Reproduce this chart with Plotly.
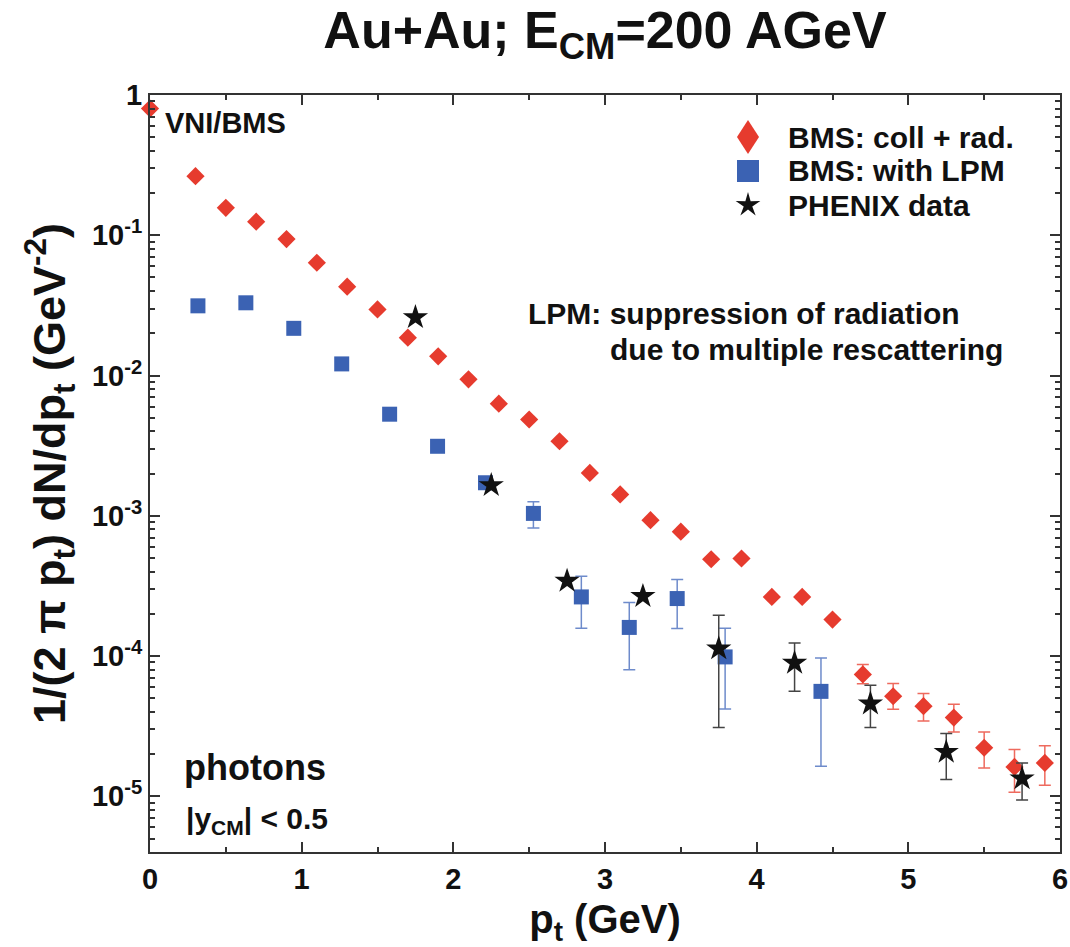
import math
import plotly.graph_objects as go

# ---------------- data ----------------
# BMS: coll + rad. (red diamonds)
bms_x = [0.0, 0.3, 0.5, 0.7, 0.9, 1.1, 1.3, 1.5, 1.7, 1.9, 2.1, 2.3, 2.5, 2.7, 2.9,
         3.1, 3.3, 3.5, 3.7, 3.9, 4.1, 4.3, 4.5, 4.7, 4.9, 5.1, 5.3, 5.5, 5.7, 5.9]
bms_y = [0.80, 0.264, 0.157, 0.125, 0.094, 0.0637, 0.043, 0.0296, 0.0186, 0.0137,
         0.0094, 0.0063, 0.00486, 0.0034, 0.00202, 0.00142, 0.00093, 0.00077, 0.00049, 0.000496,
         0.000264, 0.000264, 0.000182, 7.4e-5, 5.17e-5, 4.39e-5, 3.64e-5, 2.22e-5, 1.62e-5, 1.73e-5]
bms_hi = [None] * 23 + [8.7e-5, 6.36e-5, 5.4e-5, 4.53e-5, 2.88e-5, 2.16e-5, 2.29e-5]
bms_lo = [None] * 23 + [6.35e-5, 4.17e-5, 3.44e-5, 2.87e-5, 1.59e-5, 1.07e-5, 1.2e-5]

# BMS: with LPM (blue squares)
lpm_x = [0.316, 0.632, 0.948, 1.264, 1.58, 1.896, 2.212, 2.528, 2.844, 3.16, 3.476, 3.792, 4.424]
lpm_y = [0.0314, 0.033, 0.0217, 0.0121, 0.0053, 0.00313, 0.00172, 0.00104,
         2.64e-4, 1.6e-4, 2.57e-4, 9.86e-5, 5.6e-5]
lpm_hi = [None] * 7 + [0.00126, 3.7e-4, 2.41e-4, 3.51e-4, 1.58e-4, 9.7e-5]
lpm_lo = [None] * 7 + [0.00082, 1.58e-4, 8.0e-5, 1.57e-4, 4.2e-5, 1.64e-5]

# PHENIX data (black stars)
phx_x = [1.75, 2.25, 2.75, 3.25, 3.75, 4.25, 4.75, 5.25, 5.75]
phx_y = [0.026, 0.00165, 3.43e-4, 2.67e-4, 1.13e-4, 8.93e-5, 4.58e-5, 2.07e-5, 1.34e-5]
phx_hi = [None, None, None, None, 1.95e-4, 1.24e-4, 6.2e-5, 2.8e-5, 1.73e-5]
phx_lo = [None, None, None, None, 3.09e-5, 5.6e-5, 3.09e-5, 1.32e-5, 9.4e-6]

x_tickvals = [0, 1, 2, 3, 4, 5, 6]
x_ticktext = ["0", "1", "2", "3", "4", "5", "6"]
y_tickvals = [1e-5, 1e-4, 1e-3, 1e-2, 1e-1, 1]
y_ticktext = ["10<sup>-5</sup>", "10<sup>-4</sup>", "10<sup>-3</sup>",
              "10<sup>-2</sup>", "10<sup>-1</sup>", "1"]

legend_names = ["BMS: coll + rad.", "BMS: with LPM", "PHENIX data"]

FONT = "Liberation Sans, Arial, Helvetica, sans-serif"
RED = "#E63B2E"
BLUE = "#3B62B3"
BLACK = "#111111"

# plot-area geometry in pixels (for placing texts / legend keys)
PL, PR, PT, PB = 150, 1060, 95, 852


def pxx(px):
    return (px - PL) / float(PR - PL)


def pxy(py):
    return (PB - py) / float(PB - PT)


def err(y, hi, lo):
    plus = [None if h is None else h - v for v, h in zip(y, hi)]
    minus = [None if l is None else v - l for v, l in zip(y, lo)]
    return plus, minus


fig = go.Figure()

p, m = err(bms_y, bms_hi, bms_lo)
fig.add_trace(go.Scatter(
    x=bms_x, y=bms_y, mode="markers", name=legend_names[0], showlegend=False,
    cliponaxis=False,
    marker=dict(symbol="diamond", size=14, color=RED),
    error_y=dict(type="data", symmetric=False, array=p, arrayminus=m,
                 color="#EE6A5E", thickness=1.5, width=6)))

p, m = err(lpm_y, lpm_hi, lpm_lo)
fig.add_trace(go.Scatter(
    x=lpm_x, y=lpm_y, mode="markers", name=legend_names[1], showlegend=False,
    cliponaxis=False,
    marker=dict(symbol="square", size=15, color=BLUE),
    error_y=dict(type="data", symmetric=False, array=p, arrayminus=m,
                 color="#6E8BCB", thickness=1.5, width=6)))

p, m = err(phx_y, phx_hi, phx_lo)
fig.add_trace(go.Scatter(
    x=phx_x, y=phx_y, mode="markers", name=legend_names[2], showlegend=False,
    cliponaxis=False,
    marker=dict(symbol="star", size=19, color=BLACK),
    error_y=dict(type="data", symmetric=False, array=p, arrayminus=m,
                 color="#444444", thickness=1.5, width=6)))

annotations = []


def txt(text, x, y, size, color="#111111", xanchor="left"):
    annotations.append(dict(text=text, x=pxx(x), y=pxy(y), xref="paper", yref="paper",
                            xanchor=xanchor, yanchor="middle", showarrow=False,
                            font=dict(family=FONT, size=size, color=color, weight="bold")))


txt("VNI/BMS", 163, 123, 29)
legend_rows = [137, 171, 205]
for name, row in zip(legend_names, legend_rows):
    txt(name, 786, row, 30)
txt("LPM: suppression of radiation", 526, 313, 30)
txt("due to multiple rescattering", 608, 349, 30)
txt("photons", 182, 767, 36)
txt("|y<sub>CM</sub>| < 0.5", 184, 820, 30)


# legend keys drawn as shapes (paper coordinates)
def path_from_px(points):
    return "M " + " L ".join("%.5f,%.5f" % (pxx(a), pxy(b)) for a, b in points) + " Z"


KX = 748
shapes = []
cy = legend_rows[0]
shapes.append(dict(type="path", xref="paper", yref="paper", line=dict(width=0),
                   fillcolor=RED,
                   path=path_from_px([(KX, cy - 17), (KX + 11, cy), (KX, cy + 17), (KX - 11, cy)])))
cy = legend_rows[1]
shapes.append(dict(type="path", xref="paper", yref="paper", line=dict(width=0),
                   fillcolor=BLUE,
                   path=path_from_px([(KX - 11, cy - 11), (KX + 11, cy - 11),
                                      (KX + 11, cy + 11), (KX - 11, cy + 11)])))
cy = legend_rows[2]
star_pts = []
for k in range(10):
    r = 13 if k % 2 == 0 else 4.5
    a = -math.pi / 2 + k * math.pi / 5
    star_pts.append((KX + r * math.cos(a), cy + r * math.sin(a)))
shapes.append(dict(type="path", xref="paper", yref="paper", line=dict(width=0),
                   fillcolor=BLACK, path=path_from_px(star_pts)))

y_minor = [mm * 10.0 ** e for e in range(-6, 0) for mm in range(2, 10)]
x_minor = [0.5, 1.5, 2.5, 3.5, 4.5, 5.5]

axis_common = dict(
    showline=True, linecolor="#333333", linewidth=2, mirror="ticks",
    ticks="inside", ticklen=10, tickwidth=1.5, tickcolor="#333333",
    showgrid=False, zeroline=False,
    tickfont=dict(family=FONT, size=29, color="#111111", weight="bold"),
)

fig.update_layout(
    width=1070, height=947,
    margin=dict(l=PL, r=1070 - PR, t=PT, b=947 - PB, autoexpand=False),
    paper_bgcolor="white", plot_bgcolor="white",
    title=dict(text="Au+Au; E<sub>CM</sub>=200 AGeV", x=0.5, xref="paper", xanchor="center",
               y=1 - 30 / 947, yref="container", yanchor="middle",
               font=dict(family=FONT, size=52, color="#111111", weight="bold")),
    xaxis=dict(range=[0, 6], tickmode="array", tickvals=x_tickvals, ticktext=x_ticktext,
               minor=dict(ticks="inside", ticklen=5, tickmode="array", tickvals=x_minor,
                          tickcolor="#333333", showgrid=False),
               title=dict(text="p<sub>t</sub> (GeV)", standoff=22,
                          font=dict(family=FONT, size=40, color="#111111", weight="bold")),
               **axis_common),
    yaxis=dict(type="log", range=[-5.397, 0], tickmode="array",
               tickvals=y_tickvals, ticktext=y_ticktext,
               minor=dict(ticks="inside", ticklen=5, tickmode="array", tickvals=y_minor,
                          tickcolor="#333333", showgrid=False),
               title=dict(text="1/(2 \u03c0 p<sub>t</sub>) dN/dp<sub>t</sub> (GeV<sup>-2</sup>)",
                          standoff=12,
                          font=dict(family=FONT, size=45, color="#111111", weight="bold")),
               **axis_common),
    annotations=annotations,
    shapes=shapes,
)

fig.write_html("out.html")
